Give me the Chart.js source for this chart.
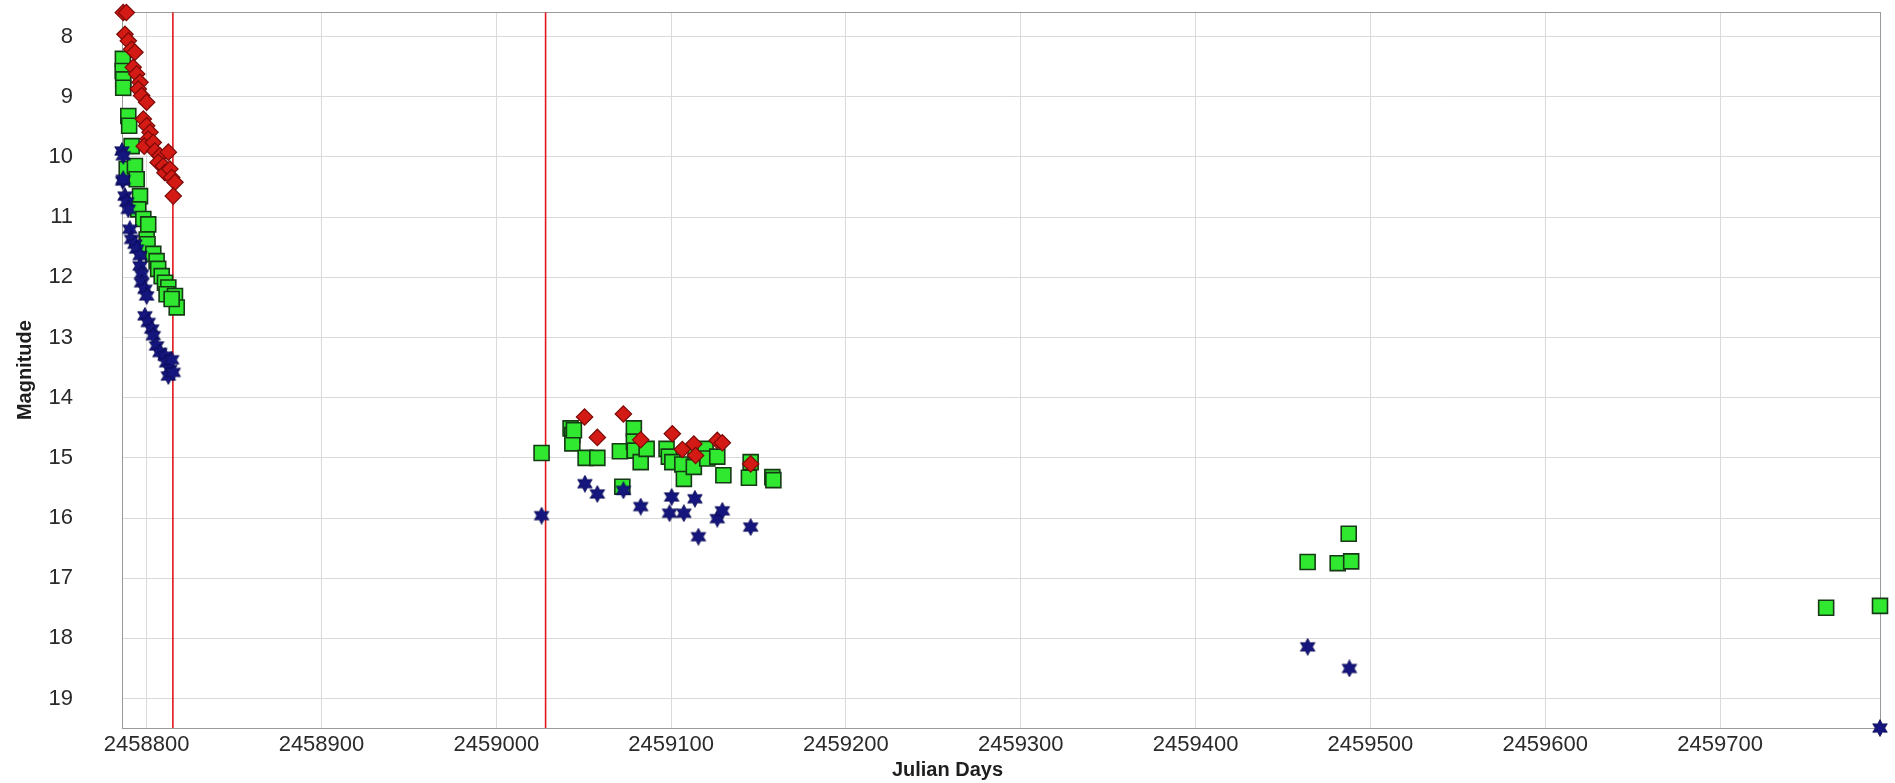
<!DOCTYPE html>
<html>
<head>
<meta charset="utf-8">
<title>Light curve</title>
<script src="https://cdn.jsdelivr.net/npm/chart.js@4/dist/chart.umd.min.js"></script>
<style>
  html, body { margin: 0; padding: 0; background: #ffffff; }
  #wrap { width: 1895px; height: 783px; }
</style>
</head>
<body>
<div id="wrap"><canvas id="c" width="1895" height="783"></canvas></div>
<script>
// ---- Observations: Julian Day and magnitude for each band ----
const diamondJD = [
  2458786.6, 2458788.4, 2458787.6, 2458789.5, 2458791.4, 2458793.3, 2458792.3, 2458794.3,
  2458796.2, 2458795.2, 2458797.1, 2458800.0, 2458798.1, 2458800.0, 2458801.9, 2458800.9,
  2458798.6, 2458803.8, 2458804.7, 2458807.6, 2458806.6, 2458812.4, 2458809.5, 2458810.5,
  2458813.3, 2458814.3, 2458816.2, 2458815.2,
  2459050.5, 2459057.8, 2459072.7, 2459082.6, 2459100.7, 2459106.4, 2459113.0, 2459114.0,
  2459126.4, 2459129.3, 2459145.5
];
const diamondMag = [
  7.60, 7.60, 7.96, 8.07, 8.21, 8.26, 8.51, 8.62,
  8.76, 8.87, 8.98, 9.09, 9.37, 9.48, 9.59, 9.70,
  9.82, 9.76, 9.90, 9.98, 10.09, 9.92, 10.15, 10.26,
  10.20, 10.34, 10.42, 10.65,
  14.32, 14.66, 14.27, 14.70, 14.60, 14.86, 14.77, 14.96,
  14.71, 14.75, 15.10
];

const squareJD = [
  2458786.4, 2458786.3, 2458786.6, 2458786.6, 2458789.5, 2458790.0, 2458791.4, 2458788.6,
  2458793.3, 2458794.3, 2458796.2, 2458795.2, 2458798.1, 2458800.9, 2458800.0, 2458800.5,
  2458803.8, 2458805.7, 2458806.6, 2458808.6, 2458810.5, 2458812.4, 2458811.4, 2458816.2,
  2458817.2, 2458814.3,
  2459025.9, 2459042.5, 2459043.5, 2459043.5, 2459044.4, 2459051.1, 2459057.8, 2459070.7,
  2459072.1, 2459078.7, 2459078.7, 2459079.2, 2459082.6, 2459086.0, 2459097.4, 2459098.7,
  2459100.7, 2459106.4, 2459107.3, 2459113.0, 2459114.0, 2459119.7, 2459120.7, 2459126.4,
  2459129.9, 2459145.5, 2459144.5, 2459157.9, 2459158.5,
  2459464.1, 2459481.3, 2459487.6, 2459489.0, 2459760.7, 2459791.5
];
const squareMag = [
  8.37, 8.57, 8.71, 8.85, 9.32, 9.48, 9.82, 10.20,
  10.15, 10.37, 10.65, 10.87, 11.03, 11.12, 11.37, 11.45,
  11.61, 11.73, 11.86, 11.98, 12.09, 12.17, 12.28, 12.31,
  12.50, 12.36,
  14.92, 14.51, 14.62, 14.76, 14.54, 15.00, 15.00, 14.89,
  15.48, 14.51, 14.73, 14.88, 15.07, 14.85, 14.85, 14.98,
  15.07, 15.11, 15.35, 15.15, 14.90, 14.85, 15.01, 14.98,
  15.29, 15.07, 15.33, 15.32, 15.37,
  16.73, 16.75, 16.26, 16.72, 17.49, 17.46
];

const starJD = [
  2458785.9, 2458786.6, 2458786.3, 2458786.6, 2458787.6, 2458788.6, 2458789.5, 2458790.4,
  2458791.4, 2458793.3, 2458794.3, 2458796.2, 2458796.2, 2458797.1, 2458797.1, 2458799.0,
  2458800.0, 2458799.0, 2458800.9, 2458802.9, 2458803.8, 2458805.7, 2458807.6, 2458810.5,
  2458811.4, 2458813.3, 2458812.4, 2458815.2, 2458814.3,
  2459025.9, 2459050.7, 2459057.8, 2459072.7, 2459082.6, 2459100.3, 2459099.1, 2459107.3,
  2459113.6, 2459115.6, 2459126.4, 2459129.3, 2459145.5,
  2459464.1, 2459488.0, 2459791.5
];
const starMag = [
  9.90, 9.98, 10.40, 10.37, 10.65, 10.75, 10.87, 11.20,
  11.37, 11.45, 11.53, 11.64, 11.81, 11.95, 12.09, 12.20,
  12.31, 12.64, 12.75, 12.86, 12.97, 13.14, 13.25, 13.31,
  13.42, 13.53, 13.64, 13.58, 13.37,
  15.96, 15.43, 15.60, 15.54, 15.81, 15.65, 15.92, 15.92,
  15.68, 16.31, 16.01, 15.88, 16.15,
  18.14, 18.50, 19.49
];

// Dates flagged with vertical red lines
const markerJD = [2458815.0, 2459028.2];

// Axis ranges and tick labels
const xRange = [2458785.9, 2459791.5];
const yRange = [7.594, 19.489];
const xTicks = [2458800, 2458900, 2459000, 2459100, 2459200, 2459300, 2459400, 2459500, 2459600, 2459700];
const yTicks = [8, 9, 10, 11, 12, 13, 14, 15, 16, 17, 18, 19];

const toPoints = (xs, ys) => xs.map((x, i) => ({ x: x, y: ys[i] }));

// Filled six-pointed star marker
function makeStar(size, fill, edge) {
  const cv = document.createElement('canvas');
  cv.width = size; cv.height = size;
  const g = cv.getContext('2d');
  const c = size / 2, ro = size / 2 - 0.6, ri = ro * 0.56;
  g.beginPath();
  for (let k = 0; k < 12; k++) {
    const r = k % 2 === 0 ? ro : ri;
    const a = -Math.PI / 2 + k * Math.PI / 6;
    const px = c + r * Math.cos(a), py = c + r * Math.sin(a);
    if (k === 0) g.moveTo(px, py); else g.lineTo(px, py);
  }
  g.closePath();
  g.fillStyle = fill;
  g.fill();
  g.lineWidth = 0.8;
  g.strokeStyle = edge;
  g.stroke();
  return cv;
}
const starMarker = makeStar(18, '#15157e', '#0a0a50');

// Plot frame on all four sides
const framePlugin = {
  id: 'frame',
  beforeDatasetsDraw(chart) {
    const a = chart.chartArea, ctx = chart.ctx;
    ctx.save();
    ctx.strokeStyle = '#9a9a9a';
    ctx.lineWidth = 1;
    ctx.strokeRect(Math.round(a.left) + 0.5, Math.round(a.top) + 0.5,
                   Math.round(a.right - a.left), Math.round(a.bottom - a.top));
    ctx.restore();
  }
};

const fontFamily = '"Liberation Sans", Arial, Helvetica, sans-serif';

const markerSets = markerJD.map(jd => ({
  type: 'line',
  data: [{ x: jd, y: yRange[0] }, { x: jd, y: yRange[1] }],
  borderColor: '#e0161a',
  borderWidth: 1.6,
  pointRadius: 0,
  fill: false,
  order: 5
}));

new Chart(document.getElementById('c'), {
  type: 'scatter',
  data: {
    datasets: [
      {
        label: 'squares',
        data: toPoints(squareJD, squareMag),
        pointStyle: 'rect',
        pointRadius: 10.6,
        backgroundColor: '#2fe82f',
        borderColor: '#153a15',
        borderWidth: 1.6,
        clip: false,
        order: 3
      },
      {
        label: 'diamonds',
        data: toPoints(diamondJD, diamondMag),
        pointStyle: 'rectRot',
        pointRadius: 8.2,
        backgroundColor: '#d31a14',
        borderColor: '#7a0a08',
        borderWidth: 1.2,
        clip: false,
        order: 2
      },
      {
        label: 'stars',
        data: toPoints(starJD, starMag),
        pointStyle: starMarker,
        pointRadius: 9,
        backgroundColor: '#15157e',
        borderColor: '#15157e',
        clip: false,
        order: 1
      },
      ...markerSets
    ]
  },
  options: {
    responsive: false,
    animation: false,
    events: [],
    layout: { padding: { left: 15, right: 15, top: 12, bottom: 0 } },
    plugins: {
      legend: { display: false },
      tooltip: { enabled: false },
      title: {
        display: true,
        position: 'bottom',
        text: 'Julian Days',
        color: '#1e1e1e',
        font: { family: fontFamily, size: 20, weight: 'bold', lineHeight: 1.2 },
        padding: { top: 0, bottom: 1 }
      }
    },
    scales: {
      x: {
        type: 'linear',
        min: xRange[0],
        max: xRange[1],
        afterBuildTicks: s => { s.ticks = xTicks.map(v => ({ value: v })); },
        afterFit: s => { s.height = 30; s.paddingLeft = 0; s.paddingRight = 0; },
        ticks: {
          color: '#2a2a2a',
          padding: 4,
          maxRotation: 0,
          autoSkip: false,
          font: { family: fontFamily, size: 22 },
          callback: v => String(v)
        },
        grid: { color: '#dadada', lineWidth: 1, drawTicks: false },
        border: { display: true, color: '#9a9a9a' }
      },
      y: {
        type: 'linear',
        reverse: true,
        min: yRange[0],
        max: yRange[1],
        afterBuildTicks: s => { s.ticks = yTicks.map(v => ({ value: v })); },
        afterFit: s => { s.width = 107; s.paddingTop = 0; s.paddingBottom = 0; },
        ticks: {
          color: '#2a2a2a',
          padding: 49,
          font: { family: fontFamily, size: 22 },
          callback: v => String(v)
        },
        grid: { color: '#dadada', lineWidth: 1, drawTicks: false },
        border: { display: true, color: '#9a9a9a' },
        title: {
          display: true,
          text: 'Magnitude',
          color: '#1e1e1e',
          font: { family: fontFamily, size: 20, weight: 'bold', lineHeight: 1 },
          padding: { top: 0, bottom: 0 }
        }
      }
    }
  },
  plugins: [framePlugin]
});
</script>
</body>
</html>
